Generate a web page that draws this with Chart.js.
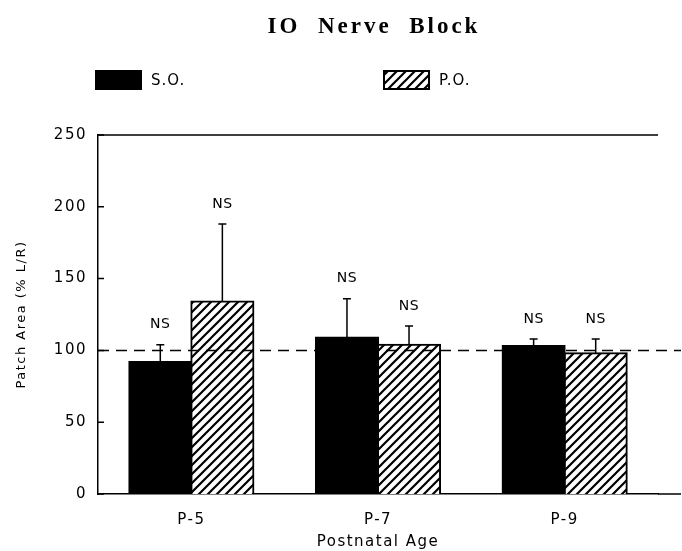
<!DOCTYPE html>
<html>
<head>
<meta charset="utf-8">
<script src="https://cdn.jsdelivr.net/npm/chart.js@4.4.1/dist/chart.umd.min.js"></script>
<style>
  html, body { margin: 0; padding: 0; background: #fff; }
  #wrap { width: 682px; height: 551px; position: relative; }
</style>
</head>
<body>
<div id="wrap"><canvas id="c"></canvas></div>
<script>
// ---- data ----
const categories = ['P-5', 'P-7', 'P-9'];
const seriesNames = ['S.O.', 'P.O.'];
const soMean = [92, 109, 103];
const soErr  = [12, 27, 5];
const poMean = [134, 104, 98];
const poErr  = [54, 13, 10];
const soSig  = ['NS', 'NS', 'NS'];
const poSig  = ['NS', 'NS', 'NS'];
const refValue = 100;
const titleText = 'IO  Nerve  Block';
const xTitle = 'Postnatal Age';
const yTitle = 'Patch Area (% L/R)';

// ---- hatch pattern ----
function makeHatch() {
  const s = 9;
  const c = document.createElement('canvas');
  c.width = s; c.height = s;
  const g = c.getContext('2d');
  g.fillStyle = '#fff';
  g.fillRect(0, 0, s, s);
  g.strokeStyle = '#000';
  g.lineWidth = 2.2;
  g.beginPath();
  g.moveTo(-1, s + 1); g.lineTo(s + 1, -1);
  g.moveTo(-2, 2); g.lineTo(2, -2);
  g.moveTo(s - 2, s + 2); g.lineTo(s + 2, s - 2);
  g.stroke();
  const ctx = document.getElementById('c').getContext('2d');
  return ctx.createPattern(c, 'repeat');
}
const hatch = makeHatch();

const errs = [soErr, poErr];
const sigs = [soSig, poSig];

const decor = {
  id: 'decor',
  beforeDraw(chart) {
    chart.ctx.letterSpacing = '1.5px';
  },
  afterDatasetsDraw(chart) {
    const ctx = chart.ctx;
    const ys = chart.scales.y;
    const area = chart.chartArea;
    ctx.save();
    // dashed reference line
    const yr = ys.getPixelForValue(refValue);
    ctx.strokeStyle = '#000';
    ctx.lineWidth = 1.5;
    ctx.setLineDash([11, 7]);
    ctx.beginPath();
    ctx.moveTo(area.left, yr);
    ctx.lineTo(681, yr);
    ctx.stroke();
    ctx.setLineDash([]);
    // error bars + NS labels
    ctx.letterSpacing = '0.5px';
    ctx.font = '14px "DejaVu Sans"';
    ctx.fillStyle = '#000';
    ctx.textAlign = 'center';
    ctx.textBaseline = 'middle';
    chart.data.datasets.forEach((ds, di) => {
      const meta = chart.getDatasetMeta(di);
      meta.data.forEach((el, i) => {
        const top = ys.getPixelForValue(ds.data[i] + errs[di][i]);
        ctx.lineWidth = 1.5;
        ctx.beginPath();
        ctx.moveTo(el.x, el.y);
        ctx.lineTo(el.x, top);
        ctx.moveTo(el.x - 4, top);
        ctx.lineTo(el.x + 4, top);
        ctx.stroke();
        ctx.fillText(sigs[di][i], el.x, top - 20);
      });
    });
    ctx.restore();
  },
  afterDraw(chart) {
    const ctx = chart.ctx;
    const ys = chart.scales.y;
    const area = chart.chartArea;
    ctx.save();
    ctx.strokeStyle = '#000';
    ctx.lineWidth = 1.5;
    // top frame line and bottom axis extension
    ctx.beginPath();
    ctx.moveTo(area.left, area.top);
    ctx.lineTo(area.right, area.top);
    ctx.moveTo(area.right, area.bottom);
    ctx.lineTo(681, area.bottom);
    ctx.stroke();
    // inward tick marks
    ctx.beginPath();
    ys.ticks.forEach(t => {
      const y = ys.getPixelForValue(t.value);
      ctx.moveTo(area.left, y);
      ctx.lineTo(area.left + 6, y);
    });
    ctx.stroke();
    // title
    ctx.letterSpacing = '3px';
    ctx.fillStyle = '#000';
    ctx.font = 'bold 23px "Liberation Serif"';
    ctx.textAlign = 'center';
    ctx.textBaseline = 'alphabetic';
    ctx.fillText(titleText, 374, 33);
    // legend
    ctx.letterSpacing = '1px';
    ctx.font = '15px "DejaVu Sans"';
    ctx.textAlign = 'left';
    ctx.textBaseline = 'middle';
    const items = [
      { x: 95, fill: '#000', border: false },
      { x: 383, fill: hatch, border: true }
    ];
    items.forEach((it, k) => {
      ctx.fillStyle = it.fill;
      ctx.fillRect(it.x, 70, 47, 20);
      if (it.border) {
        ctx.lineWidth = 2;
        ctx.strokeRect(it.x + 1, 71, 45, 18);
      }
      ctx.fillStyle = '#000';
      ctx.fillText(seriesNames[k], it.x + 56, 81);
    });
    ctx.restore();
  }
};

new Chart(document.getElementById('c'), {
  type: 'bar',
  data: {
    labels: categories,
    datasets: [
      { label: seriesNames[0], data: soMean, backgroundColor: '#000', borderColor: '#000', borderWidth: 2,
        inflateAmount: 1, categoryPercentage: 0.665, barPercentage: 1.0 },
      { label: seriesNames[1], data: poMean, backgroundColor: hatch, borderColor: '#000', borderWidth: 2,
        inflateAmount: 1, categoryPercentage: 0.665, barPercentage: 1.0 }
    ]
  },
  options: {
    responsive: true,
    maintainAspectRatio: false,
    animation: false,
    layout: { padding: { top: 135, right: 24, bottom: 0, left: 0 } },
    plugins: {
      legend: { display: false },
      title: { display: false },
      tooltip: { enabled: false }
    },
    scales: {
      x: {
        grid: { display: false, drawTicks: false },
        border: { display: true, color: '#000', width: 1.5 },
        ticks: { color: '#000', font: { family: 'DejaVu Sans', size: 15 }, padding: 17, maxRotation: 0 },
        title: { display: true, text: xTitle, color: '#000', font: { family: 'DejaVu Sans', size: 15 }, padding: { top: 0, bottom: 0 } },
        afterFit(s) { s.height = 57; }
      },
      y: {
        min: 0, max: 250,
        grid: { display: false, drawTicks: false },
        border: { display: true, color: '#000', width: 1.5 },
        ticks: { stepSize: 50, color: '#000', font: { family: 'DejaVu Sans', size: 15 }, padding: 11 },
        title: { display: true, text: yTitle, color: '#000', font: { family: 'DejaVu Sans', size: 13 }, padding: { top: 14, bottom: 0 } },
        afterFit(s) { s.width = 98; }
      }
    }
  },
  plugins: [decor]
});
</script>
</body>
</html>
